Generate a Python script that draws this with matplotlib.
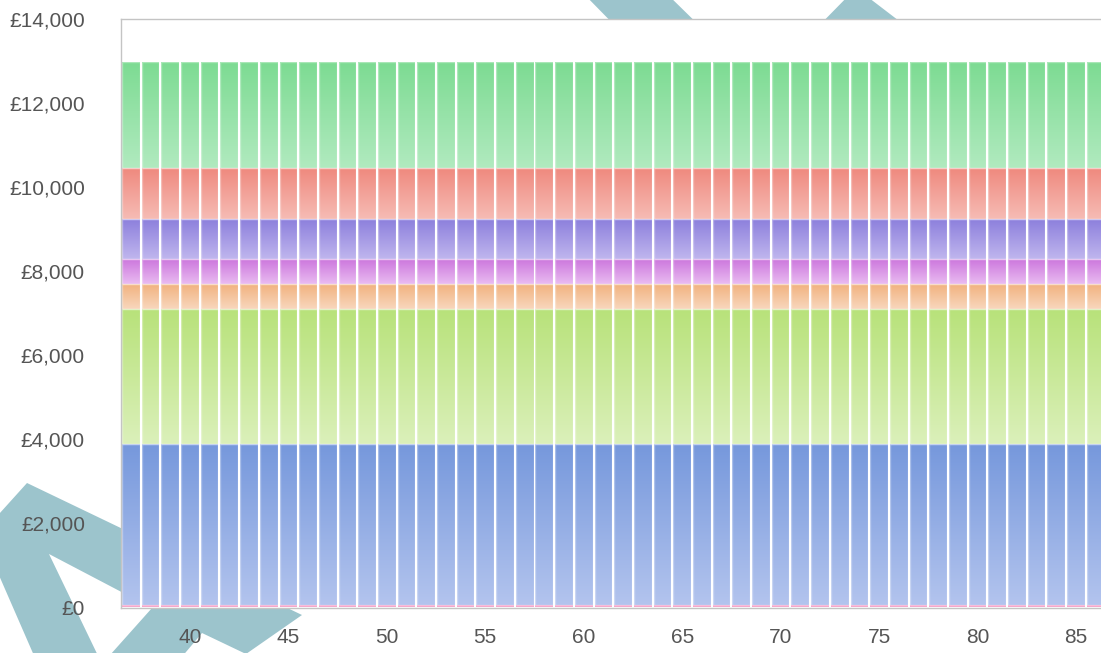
import numpy as np
import matplotlib
matplotlib.use("Agg")
import matplotlib.pyplot as plt
from matplotlib.path import Path
from matplotlib.patches import Polygon
from matplotlib.colors import to_rgb
from matplotlib.ticker import FuncFormatter

# Ages shown on the x axis
ages = list(range(37, 87))

# Yearly amount of each income stream, stacked bottom to top (£)
stream_values = [60, 3820, 3210, 595, 595, 960, 1205, 2525]

# Gradient colours of each stream: top of the band -> bottom of the band
top_colors = ["#f294c0", "#7698dc", "#b8e27a", "#f1b07c", "#cb74dc", "#8b7edc", "#ef897e", "#7cdb92"]
bottom_colors = ["#f5a6cb", "#b3c4ee", "#dbf0ba", "#f8d7bd", "#e9bbf1", "#c0b6ee", "#f6bcb5", "#b1eabf"]

y_ticks = [0, 2000, 4000, 6000, 8000, 10000, 12000, 14000]
x_ticks = [40, 45, 50, 55, 60, 65, 70, 75, 80, 85]

W, H = 1101, 653
fig = plt.figure(figsize=(W / 100, H / 100), dpi=100)
fig.patch.set_facecolor("white")

# watermark shapes behind the chart, in pixel coordinates
bg = fig.add_axes([0, 0, 1, 1], zorder=-1)
bg.set_xlim(0, W)
bg.set_ylim(H, 0)
bg.axis("off")
teal = "#9cc4cc"
bg.add_patch(Polygon([(49, 690), (-19, 534), (27, 483), (302, 615), (246, 654),
                      (202, 633), (154, 690)], closed=True, fc=teal, ec="none"))
bg.add_patch(Polygon([(49, 554), (152, 608), (102, 664)], closed=True, fc="white", ec="none"))
bg.add_patch(Polygon([(580, -10), (663, -10), (714, 40), (629, 40)], closed=True, fc=teal, ec="none"))
bg.add_patch(Polygon([(805, 40), (856, -12), (924, 40)], closed=True, fc=teal, ec="none"))

# main chart
left, right = 121 / W, 1.0
bottom, top = (H - 607.5) / H, (H - 19) / H
ax = fig.add_axes([left, bottom, right - left, top - bottom])
ax.set_facecolor("white")

x_min = 36.5
x_max = x_min + (W - 121) / 19.69

base = np.zeros(len(ages))
for i, (val, c_top, c_bot) in enumerate(zip(stream_values, top_colors, bottom_colors)):
    heights = np.full(len(ages), val, dtype=float)
    bars = ax.bar(ages, heights, bottom=base, width=0.9, color="none", edgecolor="none")

    # vertical gradient clipped to the bars of this stream
    paths = [b.get_path().transformed(b.get_patch_transform()) for b in bars]
    clip = Path.make_compound_path(*paths)
    t = np.linspace(0, 1, 256)[:, None, None]
    grad = np.array(to_rgb(c_bot)) + (np.array(to_rgb(c_top)) - np.array(to_rgb(c_bot))) * t
    grad = np.repeat(grad, 2, axis=1)
    im = ax.imshow(grad, extent=(x_min, x_max, base[0], base[0] + val), origin="lower",
                   aspect="auto", interpolation="bilinear", zorder=1)
    im.set_clip_path(clip, ax.transData)

    # soft light outline on each block (not on the thin bottom strip)
    if i > 0:
        ax.bar(ages, heights, bottom=base, width=0.9, facecolor="none",
               edgecolor=(1, 1, 1, 0.35), linewidth=1.0, zorder=2)
    base = base + heights

ax.set_xlim(x_min, x_max)
ax.set_ylim(0, 14000)

ax.set_xticks(x_ticks)
ax.set_yticks(y_ticks)
ax.yaxis.set_major_formatter(FuncFormatter(lambda v, p: f"£{int(v):,}"))
ax.tick_params(length=0, labelsize=15, labelcolor="#555555")
ax.tick_params(axis="x", pad=15)
ax.tick_params(axis="y", pad=26)
for lab in ax.get_xticklabels() + ax.get_yticklabels():
    lab.set_fontfamily(["Liberation Sans", "DejaVu Sans"])

for side in ["left", "top", "bottom"]:
    ax.spines[side].set_color("#c4c4c4")
    ax.spines[side].set_linewidth(1.0)
ax.spines["right"].set_visible(False)

fig.savefig("out.png", dpi=100, facecolor="white")
